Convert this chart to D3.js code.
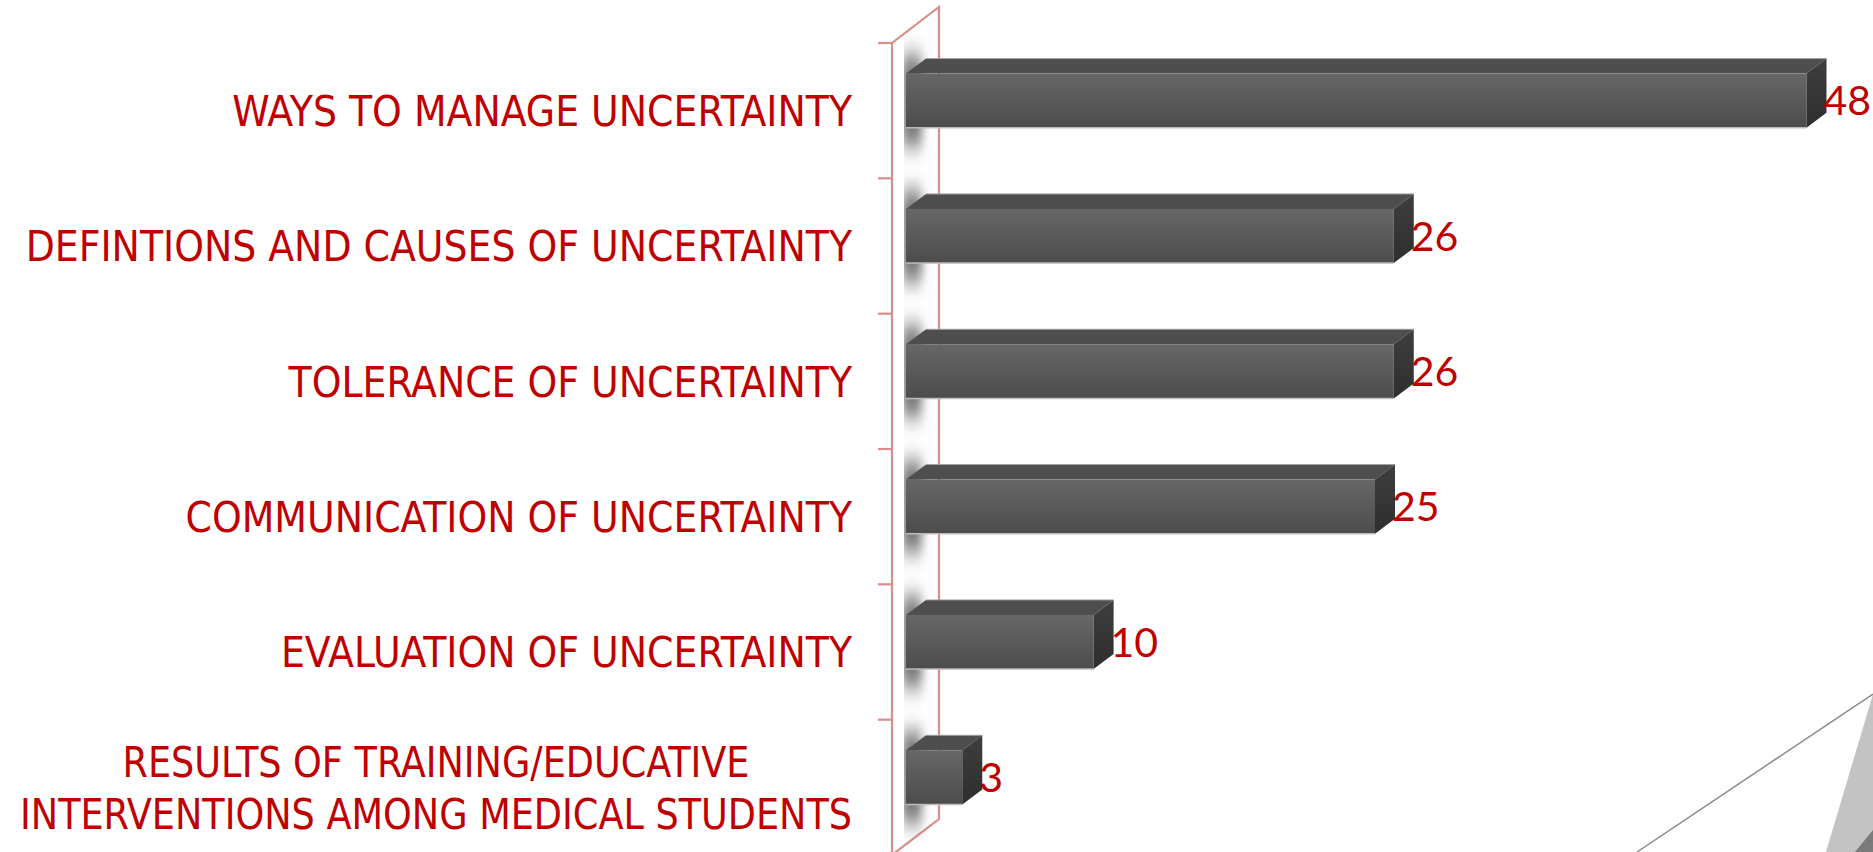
<!DOCTYPE html>
<html>
<head>
<meta charset="utf-8">
<script src="https://cdn.jsdelivr.net/npm/d3@7"></script>
<style>
  html, body { margin: 0; padding: 0; background: #fff; overflow: hidden; }
  .cat { font-family: "Liberation Sans Narrow", "DejaVu Sans", sans-serif; font-stretch: condensed; fill: #c00000; font-size: 43px; }
  .val { font-family: Lato, "Open Sans", sans-serif; fill: #c00000; font-size: 41px; }
</style>
</head>
<body>
<div id="chart"></div>
<script>
"use strict";

var categories = [
  "WAYS TO MANAGE UNCERTAINTY",
  "DEFINTIONS AND CAUSES OF UNCERTAINTY",
  "TOLERANCE OF UNCERTAINTY",
  "COMMUNICATION OF UNCERTAINTY",
  "EVALUATION OF UNCERTAINTY",
  "RESULTS OF TRAINING/EDUCATIVE\nINTERVENTIONS AMONG MEDICAL STUDENTS"
];
var values = [48, 26, 26, 25, 10, 3];
var valueDomain = [0, 50];

var width = 1873, height = 852;
var data = categories.map(function(c, i) { return { cat: c, value: values[i] }; });

var svg = d3.select("#chart").append("svg")
  .attr("width", width)
  .attr("height", height);

var x = d3.scaleLinear().domain(valueDomain).range([906, 1844]);
var y = d3.scaleBand()
  .domain(categories)
  .range([43, 855])
  .paddingInner(0.6)
  .paddingOuter(0.3);

var depthX = 20, depthY = 15;   // bar depth
var wallX = 47, wallY = 36;     // wall depth
var lift = 10;                  // perspective lift of the bars

var defs = svg.append("defs");
var front = defs.append("linearGradient").attr("id", "front")
  .attr("x1", 0).attr("y1", 0).attr("x2", 0).attr("y2", 1);
front.append("stop").attr("offset", "0%").attr("stop-color", "#676767");
front.append("stop").attr("offset", "100%").attr("stop-color", "#4c4c4c");
var side = defs.append("linearGradient").attr("id", "side")
  .attr("x1", 0).attr("y1", 0).attr("x2", 0).attr("y2", 1);
side.append("stop").attr("offset", "0%").attr("stop-color", "#3e3e3e");
side.append("stop").attr("offset", "100%").attr("stop-color", "#2e2e2e");
defs.append("filter").attr("id", "blur")
  .attr("x", "-50%").attr("y", "-50%").attr("width", "200%").attr("height", "200%")
  .append("feGaussianBlur").attr("stdDeviation", "5 11");
defs.append("clipPath").attr("id", "wallclip")
  .append("rect").attr("x", x(0) - 2).attr("y", 0).attr("width", 26).attr("height", height);

// axis wall
var wx = x(0) - 14,
  y0 = y.range()[0], y1 = y.range()[1];
var wall = svg.append("g")
  .style("fill", "none")
  .style("stroke", "#d98e8c")
  .style("stroke-width", 2.2);
wall.append("path")
  .attr("d", "M" + wx + "," + y1 + "L" + wx + "," + y0 + "L" + (wx + wallX) + "," + (y0 - wallY) +
    "L" + (wx + wallX) + "," + (y1 - wallY) + "L" + wx + "," + y1);
wall.selectAll(".tick")
  .data(d3.range(categories.length + 1))
  .enter().append("line")
  .attr("x1", wx - 14).attr("x2", wx)
  .attr("y1", function(i) { return y0 + i * y.step(); })
  .attr("y2", function(i) { return y0 + i * y.step(); });

// soft shadows on the wall
svg.append("g").attr("clip-path", "url(#wallclip)")
  .selectAll("rect")
  .data(data)
  .enter().append("rect")
  .attr("x", x(0) - 4)
  .attr("width", 20)
  .attr("y", function(d) { return y(d.cat) - lift - 18; })
  .attr("height", y.bandwidth() + 36)
  .style("fill", "#3a3a3a")
  .style("opacity", 0.7)
  .attr("filter", "url(#blur)");

// bars
var bars = svg.selectAll(".bar")
  .data(data)
  .enter().append("g")
  .attr("class", "bar");

bars.append("path")
  .style("fill", "#4e4e4e")
  .attr("d", function(d) {
    var t = y(d.cat) - lift;
    return "M" + x(0) + "," + t + "L" + (x(0) + depthX) + "," + (t - depthY) +
      "L" + (x(d.value) + depthX) + "," + (t - depthY) + "L" + x(d.value) + "," + t + "Z";
  });
bars.append("line")
  .style("stroke", "#a0a0a0").style("stroke-width", 1)
  .attr("x1", function() { return x(0) + depthX; })
  .attr("x2", function(d) { return x(d.value) + depthX; })
  .attr("y1", function(d) { return y(d.cat) - lift - depthY; })
  .attr("y2", function(d) { return y(d.cat) - lift - depthY; });
bars.append("rect")
  .style("fill", "url(#front)")
  .attr("x", x(0))
  .attr("y", function(d) { return y(d.cat) - lift; })
  .attr("width", function(d) { return x(d.value) - x(0); })
  .attr("height", y.bandwidth());
bars.append("line")
  .style("stroke", "#bcbcbc").style("stroke-width", 1.5)
  .attr("x1", x(0))
  .attr("x2", function(d) { return x(d.value); })
  .attr("y1", function(d) { return y(d.cat) - lift + y.bandwidth(); })
  .attr("y2", function(d) { return y(d.cat) - lift + y.bandwidth(); });
bars.append("path")
  .style("fill", "url(#side)")
  .attr("d", function(d) {
    var t = y(d.cat) - lift, b = t + y.bandwidth(), r = x(d.value);
    return "M" + r + "," + t + "L" + (r + depthX) + "," + (t - depthY) +
      "L" + (r + depthX) + "," + (b - depthY) + "L" + r + "," + b + "Z";
  });

// value labels
bars.append("text")
  .attr("class", "val")
  .attr("x", function(d) { return x(d.value) + depthX - 3; })
  .attr("y", function(d) { return y(d.cat) - lift + y.bandwidth() / 2; })
  .attr("dy", "0.36em")
  .text(function(d) { return d.value; });

// category labels
var labelRight = wx - 40,
  labelLeft = 20,
  squeeze = 0.978;
svg.selectAll(".cat")
  .data(data)
  .enter().append("text")
  .attr("class", "cat")
  .each(function(d) {
    var el = d3.select(this);
    var lines = d.cat.split("\n");
    var cy = y(d.cat) + y.bandwidth() / 2;
    var lh = 52;
    lines.forEach(function(l, i) {
      el.append("tspan")
        .attr("y", cy + (i - (lines.length - 1) / 2) * lh)
        .attr("dy", "0.36em")
        .text(l);
    });
    var maxW = 0;
    el.selectAll("tspan").each(function() {
      maxW = Math.max(maxW, this.getComputedTextLength());
    });
    // narrow the font a little, more if it does not fit left of the axis
    var room = labelRight - labelLeft;
    var k = Math.min(squeeze, room / maxW);
    el.attr("text-anchor", "middle")
      .selectAll("tspan")
      .attr("x", labelRight - maxW * k / 2)
      .each(function() {
        d3.select(this)
          .attr("textLength", this.getComputedTextLength() * k)
          .attr("lengthAdjust", "spacingAndGlyphs");
      });
  });

// decoration in the lower right corner
svg.append("path")
  .attr("d", "M1826,852L1873,694L1873,852Z")
  .style("fill", "#c3c3c3");
svg.append("path")
  .attr("d", "M1855,852L1873,830L1873,852Z")
  .style("fill", "#7a7a7a");
svg.append("line")
  .attr("x1", 1637).attr("y1", 852).attr("x2", 1873).attr("y2", 694)
  .style("stroke", "#8a8a8a").style("stroke-width", 1.5);
</script>
</body>
</html>
